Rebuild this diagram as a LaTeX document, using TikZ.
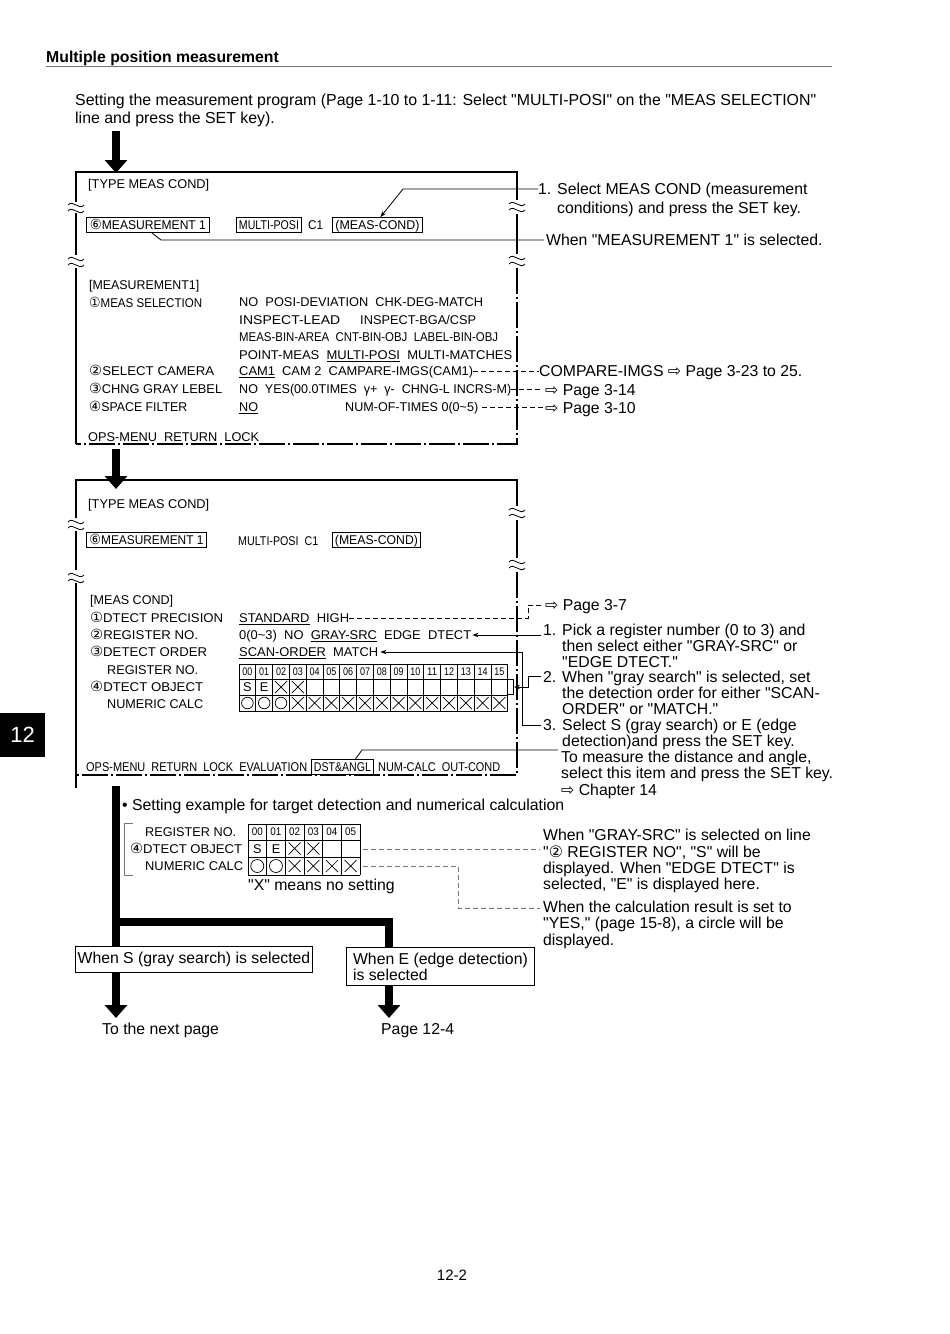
\documentclass[tikz,border=0pt]{standalone}
\usepackage{fontspec}
\setmainfont{Liberation Sans}[Ligatures=TeXOff]
\newfontfamily\dv{DejaVu Sans}
\usetikzlibrary{arrows.meta}
\newcommand\rz[2]{\resizebox{#1pt}{\height}{#2}}
\newcommand\cn[1]{{\dv\fontsize{14}{14}\selectfont #1}}
\newcommand\ml[1]{\begin{tabular}[t]{@{}l@{}}#1\end{tabular}}
\newcommand\pg{{\dv ⇨}}
\newcommand\wav[2]{%
  \draw[wv] (#1-8,#2-2) .. controls (#1-3,#2-8) and (#1+3,#2+4) .. (#1+8,#2-2);
  \draw[wv] (#1-8,#2+4) .. controls (#1-3,#2-2) and (#1+3,#2+10) .. (#1+8,#2+4);}
\newcommand\xx[2]{\draw[cell] (#1-6,#2-6)--(#1+6,#2+6) (#1-6,#2+6)--(#1+6,#2-6);}
\begin{document}
\begin{tikzpicture}[x=1pt,y=-1pt,
  scr/.style={font=\fontsize{12.7}{14}\selectfont, inner sep=0pt, anchor=west, text height=9.1pt, text depth=0pt},
  sel/.style={scr, draw, line width=0.9pt, minimum height=15pt},
  ann/.style={font=\fontsize{15.8}{16}\selectfont, inner sep=0pt, anchor=base west},
  frame/.style={line width=1.3pt},
  ddash/.style={line width=1.1pt, dash pattern=on 26pt off 3pt on 2pt off 3pt},
  wv/.style={line width=0.8pt},
  lead/.style={line width=0.8pt},
  dsh/.style={line width=0.8pt, dash pattern=on 5pt off 3pt},
  gdsh/.style={line width=0.7pt, black!55, dash pattern=on 5pt off 3pt},
  ar/.style={-{Stealth[length=6pt,width=4.5pt]}},
  big/.style={line width=8pt, line join=miter},
  bigar/.style={line width=8pt, -{Triangle[length=13pt,width=22pt]}},
  cell/.style={line width=0.7pt},
  hd/.style={font=\fontsize{11}{11}\selectfont, inner sep=0pt},
  tbox/.style={draw, line width=0.9pt, inner sep=0pt, font=\fontsize{15.8}{16}\selectfont, anchor=north west}
]
\fill[white] (0,0) rectangle (950,1334);
\useasboundingbox (0,0) rectangle (950,1334);

% title and intro
\node[ann, font=\bfseries\fontsize{15.8}{16}\selectfont] (title) at (46,62.7) {Multiple position measurement};
\draw[black!55, line width=0.8pt] (46,66) -- (832,66);
\node[ann, font=\fontsize{15.9}{18}\selectfont] (intro) at (75,105.7) {\ml{Setting the measurement program (Page 1-10 to 1-11: Select "MULTI-POSI" on the "MEAS SELECTION"\\line and press the SET key).}};

% arrows between screens
\coordinate (a0) at (116,131); \coordinate (a0e) at (116,173);
\draw[bigar] (a0) -- (a0e);
\coordinate (a1) at (116,449); \coordinate (a1e) at (116,489);
\draw[bigar] (a1) -- (a1e);

% ---------- screen 1 frame
\draw[frame] (76,202) -- (76,172) -- (517,172) -- (517,200);
\draw[frame] (76,213) -- (76,255);
\draw[frame] (76,268) -- (76,444);
\draw[frame] (517,214) -- (517,254);
\draw[ddash] (517,268) -- (517,444) -- (76,444);
\wav{76}{207}\wav{76}{261}\wav{517}{206}\wav{517}{260}

% screen 1 texts
\node[scr] (s1t) at (88,184) {\rz{121}{[TYPE MEAS COND]}};
\node[sel, minimum width=123pt] (m1) at (86,225) {\rz{116}{\cn{⑥}MEASUREMENT 1}};
\node[sel, minimum width=65pt] (mp1) at (236,225) {\rz{60}{MULTI-POSI}};
\node[scr] (c1) at (308,225) {\rz{15}{C1}};
\node[sel, minimum width=90pt] (mc1) at (332,225) {\rz{84}{(MEAS-COND)}};
\node[scr] (s1h) at (89,285) {\rz{110}{[MEASUREMENT1]}};
\node[scr] (ms) at (89,303) {\rz{113}{\cn{①}MEAS SELECTION}};
\node[scr] (o1) at (239,302) {\rz{244}{NO\ \ POSI-DEVIATION\ \ CHK-DEG-MATCH}};
\node[scr] (o2a) at (239,320) {\rz{101}{INSPECT-LEAD}};
\node[scr] (o2b) at (360,320) {\rz{116}{INSPECT-BGA/CSP}};
\node[scr] (o3) at (239,337) {\rz{259}{MEAS-BIN-AREA\ \ CNT-BIN-OBJ\ \ LABEL-BIN-OBJ}};
\node[scr] (o4) at (239,355) {\rz{273}{POINT-MEAS\ \ \underline{MULTI-POSI}\ \ MULTI-MATCHES}};
\node[scr] (sc) at (89,371) {\rz{125}{\cn{②}SELECT CAMERA}};
\node[scr] (cmp) at (239,371) {\rz{234}{\underline{CAM1}\ \ CAM 2\ \ CAMPARE-IMGS(CAM1)}};
\node[scr] (cg) at (89,389) {\rz{133}{\cn{③}CHNG GRAY LEBEL}};
\node[scr] (chg) at (239,389) {\rz{272}{NO\ \ YES(00.0TIMES\ \ γ+\ \ γ-\ \ CHNG-L INCRS-M)}};
\node[scr] (sf) at (89,407) {\rz{98}{\cn{④}SPACE FILTER}};
\node[scr] (sfn) at (239,407) {\rz{19}{\underline{NO}}};
\node[scr] (nt) at (345,407) {\rz{133}{NUM-OF-TIMES 0(0\textasciitilde5)}};
\node[scr] (mn1) at (88,437) {\rz{171}{OPS-MENU\ \ RETURN\ \ LOCK}};

% screen 1 annotations
\node[ann, font=\fontsize{15.8}{19}\selectfont] (t1) at (538,194.7) {\ml{1. Select MEAS COND (measurement\\\phantom{1. }conditions) and press the SET key.}};
\node[ann] (t2) at (546,245.7) {When "MEASUREMENT 1" is selected.};
\node[ann] (t3) at (539,376.7) {COMPARE-IMGS \pg\ Page 3-23 to 25.};
\node[ann] (t4) at (545,395.7) {\pg\ Page 3-14};
\node[ann] (t5) at (545,413.7) {\pg\ Page 3-10};
\coordinate (t1s) at (538,189);
\draw[lead, ar] (t1s) -- (403,189) -- ([xshift=3pt]mc1.north);
\coordinate (t2s) at (544,240);
\draw[lead] (t2s) -- (161,240) -- ([xshift=4pt]m1.south);
\draw[dsh] (cmp.east) -- (cmp.east -| t3.west);
\draw[dsh] (chg.east) -- ([xshift=-2pt]chg.east -| t4.west);
\draw[dsh] ([xshift=4pt]nt.east) -- ([xshift=-2pt]nt.east -| t5.west);

% ---------- screen 2 frame
\draw[frame] (76,518) -- (76,480) -- (517,480) -- (517,506);
\draw[frame] (76,531) -- (76,570);
\draw[frame] (76,583) -- (76,788);
\draw[frame] (517,520) -- (517,558);
\draw[ddash] (517,572) -- (517,775) -- (76,775);
\wav{76}{524}\wav{76}{577}\wav{517}{512}\wav{517}{564}

% screen 2 texts
\node[scr] (s2t) at (88,504) {\rz{121}{[TYPE MEAS COND]}};
\node[sel, minimum width=120pt] (m2) at (86,540) {\rz{114}{\cn{⑥}MEASUREMENT 1}};
\node[scr] (mp2) at (238,541) {\rz{80}{MULTI-POSI\ \ C1}};
\node[sel, minimum width=88pt] (mc2) at (332,540) {\rz{83}{(MEAS-COND)}};
\node[scr] (mch) at (90,600) {\rz{83}{[MEAS COND]}};
\node[scr] (dp) at (90,618) {\rz{133}{\cn{①}DTECT PRECISION}};
\node[scr] (hi) at (239,618) {\rz{110}{\underline{STANDARD}\ \ HIGH}};
\node[scr] (rn) at (90,635) {\rz{108}{\cn{②}REGISTER NO.}};
\node[scr] (dt) at (239,635) {\rz{232}{0(0\textasciitilde3)\ \ NO\ \ \underline{GRAY-SRC}\ \ EDGE\ \ DTECT}};
\node[scr] (do) at (90,652) {\rz{117}{\cn{③}DETECT ORDER}};
\node[scr] (mt) at (239,652) {\rz{139}{\underline{SCAN-ORDER}\ \ MATCH}};
\node[scr] (rn2) at (107,670) {\rz{91}{REGISTER NO.}};
\node[scr] (dob) at (90,687) {\rz{113}{\cn{④}DTECT OBJECT}};
\node[scr] (nc) at (107,704) {\rz{96}{NUMERIC CALC}};
\node[scr] (mn2) at (86,767) {\rz{221}{OPS-MENU\ \ RETURN\ \ LOCK\ \ EVALUATION}};
\node[sel, minimum width=62pt] (dst) at (311,767) {\rz{57}{DST\&ANGL}};
\node[scr] (mn3) at (378,767) {\rz{122}{NUM-CALC\ \ OUT-COND}};

% table in screen 2
\foreach \i in {0,...,16} \draw[cell] ({239+\i*16.8},664) -- ({239+\i*16.8},711);
\foreach \yy in {664,679,695,711} \draw[cell] (239,\yy) -- (507.8,\yy);
\foreach \i/\t in {0/00,1/01,2/02,3/03,4/04,5/05,6/06,7/07,8/08,9/09,10/10,11/11,12/12,13/13,14/14,15/15}
  \node[hd] (h\i) at ({247.4+\i*16.8},671.5) {\rz{10}{\t}};
\node[scr, anchor=center] (ts0) at (247.4,687) {S};
\node[scr, anchor=center] (ts1) at (264.2,687) {E};
\xx{281}{687}\xx{297.8}{687}
\foreach \i in {0,1,2} \draw[cell] ({247.4+\i*16.8},703) circle (5.8pt);
\foreach \i in {3,...,15} {\xx{247.4+16.8*\i}{703}}
\draw[lead] (508,679) -- (513,679) -- (513,694) -- (508,694);
\coordinate (brk) at (514,687);

% screen 2 annotations
\node[ann] (p37) at (545,610.7) {\pg\ Page 3-7};
\node[ann] (b1) at (543,635.7) {\ml{1. Pick a register number (0 to 3) and\\\phantom{1. }then select either "GRAY-SRC" or\\\phantom{1. }"EDGE DTECT."}};
\node[ann] (b2) at (543,682.7) {\ml{2. When "gray search" is selected, set\\\phantom{2. }the detection order for either "SCAN-\\\phantom{2. }ORDER" or "MATCH."}};
\node[ann] (b3) at (543,730.7) {\ml{3. Select S (gray search) or E (edge\\\phantom{3. }detection)and press the SET key.}};
\node[ann] (b4) at (561,762.7) {\ml{To measure the distance and angle,\\select this item and press the SET key.\\\pg\ Chapter 14}};
\coordinate (p37s) at (541,605);
\draw[dsh] (hi.east) -- (528,618) -- (528,605) -- (p37s);
\coordinate (b1s) at (541,635);
\draw[lead, ar] (b1s) -- ([xshift=1pt]dt.east);
\coordinate (b3s) at (541,725);
\draw[lead, ar] (b3s) -- (522,725) -- (522,652) -- ([xshift=2pt]mt.east);
\coordinate (b2s) at (541,676);
\draw[lead, ar] (b2s) -- (528,676) -- (528,687) -- (brk);
\coordinate (b4s) at (558,750);
\draw[lead] (b4s) -- (362,750) -- ([xshift=13pt]dst.north);

% ---------- setting example
\node[ann] (se) at (122,810.7) {\textbullet\ Setting example for target detection and numerical calculation};
\draw[black!55, line width=0.7pt] (133,823) -- (124,823) -- (124,875) -- (133,875);
\node[scr] (sr) at (145,832) {\rz{91}{REGISTER NO.}};
\node[scr] (sd) at (130,849) {\rz{112}{\cn{④}DTECT OBJECT}};
\node[scr] (sn) at (145,866) {\rz{98}{NUMERIC CALC}};
\foreach \i in {0,...,6} \draw[cell] ({248+\i*18.67},824) -- ({248+\i*18.67},875);
\foreach \yy in {824,840,857,875} \draw[cell] (248,\yy) -- (360,\yy);
\foreach \i/\t in {0/00,1/01,2/02,3/03,4/04,5/05}
  \node[hd] (sh\i) at ({257.3+\i*18.67},832) {\rz{11}{\t}};
\node[scr, anchor=center] (ss0) at (257.3,848.5) {S};
\node[scr, anchor=center] (ss1) at (276,848.5) {E};
\xx{294.6}{848.5}\xx{313.3}{848.5}
\foreach \i in {0,1} \draw[cell] ({257.3+\i*18.67},866) circle (6.5pt);
\foreach \i in {2,...,5} {\xx{257.3+18.67*\i}{866}}
\node[ann] (xm) at (248,890.7) {"X" means no setting};
\node[ann] (w1) at (543,840.7) {\ml{When "GRAY-SRC" is selected on line\\"{\dv ②} REGISTER NO", "S" will be\\displayed. When "EDGE DTECT" is\\selected, "E" is displayed here.}};
\node[ann] (w2) at (543,912.7) {\ml{When the calculation result is set to\\"YES," (page 15-8), a circle will be\\displayed.}};
\coordinate (se1) at (363,849); \coordinate (se2) at (363,866);
\draw[gdsh] (se1) -- ([xshift=-3pt]w1.west |- se1);
\draw[gdsh] (se2) -- (458,866) -- (458,908) -- ([xshift=-3pt]w2.west |- 458,908);

% ---------- branch boxes and arrows
\node[tbox, minimum width=237pt, minimum height=26pt] (sb) at (75,946) {When S (gray search) is selected};
\node[tbox, minimum width=188pt, minimum height=38pt, align=left] (eb) at (346,947) {When E (edge detection)\\is selected};
\coordinate (tr) at (116,786);
\draw[big] (tr) -- (sb.north -| tr);
\coordinate (br) at (112,922);
\draw[big] (br) -- (389,922) -- (eb.north -| 389,0);
\coordinate (sbe) at (116,1018); \coordinate (ebe) at (389,1018);
\draw[bigar] (sb.south -| sbe) -- (sbe);
\draw[bigar] (eb.south -| ebe) -- (ebe);
\node[ann] (np) at (102,1034.7) {To the next page};
\node[ann] (p124) at (381,1034.7) {Page 12-4};

% tab and page number
\node[fill=black, text=white, minimum width=45pt, minimum height=44pt, inner sep=0pt, anchor=north west, font=\fontsize{22}{22}\selectfont] (tab) at (0,713) {12};
\node[font=\fontsize{15}{15}\selectfont, inner sep=0pt] (pn) at (452,1275) {12-2};
\end{tikzpicture}
\end{document}
